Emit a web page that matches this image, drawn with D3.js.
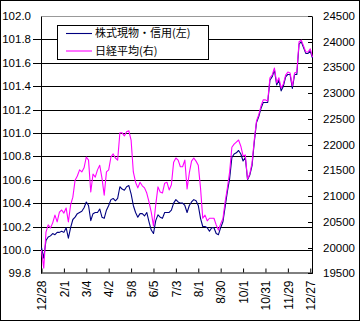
<!DOCTYPE html>
<html>
<head>
<meta charset="utf-8">
<script src="https://cdn.jsdelivr.net/npm/d3@7"></script>
<style>
  html, body { margin: 0; padding: 0; background: #fff; }
  svg { display: block; }
  text { font-family: "Liberation Sans", Arial, sans-serif; fill: #000; }
  .legend text { font-family: "Noto Sans CJK JP", "Noto Sans", sans-serif; }
</style>
</head>
<body>
<svg id="chart" width="360" height="324"></svg>
<script>
// Category labels, one for every tenth observation
const dateLabels = ["12/28", "2/1", "3/4", "4/2", "5/8", "6/5", "7/3", "8/1", "8/30", "10/1", "10/31", "11/29", "12/27"];
const labelEvery = 10;

// 株式現物・信用 (left axis)
const stockCredit = [
  100.02, 99.93, 100.08, 100.11, 100.12, 100.14, 100.13, 100.15, 100.15, 100.16,
  100.15, 100.19, 100.10, 100.19, 100.26, 100.28, 100.31, 100.32, 100.33, 100.36,
  100.41, 100.38, 100.25, 100.31, 100.32, 100.32, 100.35, 100.28, 100.27, 100.34,
  100.38, 100.43, 100.44, 100.42, 100.44, 100.54, 100.52, 100.51, 100.54, 100.55,
  100.48, 100.38, 100.32, 100.28, 100.31, 100.31, 100.29, 100.32, 100.24, 100.17,
  100.14, 100.25, 100.30, 100.28, 100.27, 100.32, 100.32, 100.32, 100.34, 100.40,
  100.43, 100.41, 100.40, 100.40, 100.38, 100.32, 100.38, 100.41, 100.43, 100.42,
  100.38, 100.27, 100.20, 100.20, 100.19, 100.16, 100.19, 100.19, 100.14, 100.13,
  100.19, 100.24, 100.37, 100.50, 100.61, 100.79, 100.82, 100.83, 100.85, 100.82,
  100.76, 100.79, 100.60, 100.64, 100.72, 100.92, 101.09, 101.14, 101.21, 101.26,
  101.26, 101.26, 101.45, 101.48, 101.54, 101.41, 101.45, 101.36, 101.40, 101.48,
  101.50, 101.50, 101.38, 101.50, 101.50, 101.76, 101.78, 101.73, 101.68, 101.68,
  101.70, 101.64
];

// 日経平均 (right axis)
const nikkei = [
  19950, 19600, 20300, 20440, 20380, 20480, 20630, 20500, 20690, 20730,
  20670, 20770, 20500, 20830, 20980, 21310, 21390, 21510, 21470, 21550,
  21760, 21700, 21080, 21430, 21370, 21510, 21600, 21350, 21020, 21470,
  21510, 21760, 21820, 21740, 21700, 22230, 22230, 22170, 22250, 22270,
  22090, 21470, 21270, 21160, 21270, 21200, 21160, 21060, 20890, 20690,
  20420, 20830, 21180, 21080, 21060, 21250, 21270, 21120, 21220, 21660,
  21740, 21700, 21570, 21570, 21700, 21140, 21450, 21680, 21740, 21680,
  21600, 21160, 20570, 20630, 20520, 20570, 20570, 20570, 20440, 20340,
  20460, 20560, 20890, 21160, 21470, 21950, 22010, 22050, 22090, 21970,
  21780, 21800, 21330, 21430, 21640, 22090, 22460, 22580, 22750, 22870,
  22870, 22850, 23300, 23350, 23490, 23200, 23300, 23100, 23180, 23350,
  23410, 23390, 23140, 23390, 23410, 24000, 24030, 23920, 23800, 23800,
  23860, 23700
];

const leftTicks = [99.8, 100.0, 100.2, 100.4, 100.6, 100.8, 101.0, 101.2, 101.4, 101.6, 101.8, 102.0];
const rightTicks = [19500, 20000, 20500, 21000, 21500, 22000, 22500, 23000, 23500, 24000, 24500];
const seriesNames = ["株式現物・信用(左)", "日経平均(右)"];
const seriesColors = ["#000080", "#ff00ff"];

const plot = { left: 41.5, right: 312.5, top: 16, bottom: 273.3 };
const svg = d3.select("#chart");

// outer frame
svg.append("rect")
  .attr("x", 0.5).attr("y", 0.5).attr("width", 359).attr("height", 320)
  .attr("fill", "#fff").attr("stroke", "#000").attr("stroke-width", 1);

const N = stockCredit.length;
const x = d3.scalePoint().domain(d3.range(N)).range([plot.left, plot.right]);
const yL = d3.scaleLinear().domain([99.8, 102.0]).range([plot.bottom, plot.top]);
const yR = d3.scaleLinear().domain([19500, 24500]).range([plot.bottom, plot.top]);
const yLr = yL.copy().interpolate(d3.interpolateRound);
const yRr = yR.copy().interpolate(d3.interpolateRound);

// horizontal gridlines on the left-axis scale
svg.append("g")
  .selectAll("line")
  .data(leftTicks.filter(v => v > 99.8))
  .join("line")
  .attr("x1", plot.left).attr("x2", plot.right)
  .attr("y1", d => yLr(d) + 0.5).attr("y2", d => yLr(d) + 0.5)
  .attr("stroke", d => d === 102.0 ? "#999" : "#000")
  .attr("stroke-width", 1);

// left axis
const gL = svg.append("g")
  .attr("transform", `translate(${plot.left - 0.5},0)`)
  .call(d3.axisLeft(yLr).tickValues(leftTicks).tickFormat(d3.format(".1f"))
    .tickSize(8).tickSizeOuter(0).tickPadding(2));
gL.selectAll(".tick line").attr("stroke", "#000")
  .attr("opacity", d => (d === 99.8 || d === 102.0) ? 0 : 1);
gL.select(".domain").attr("stroke", "#000");
gL.selectAll("text").attr("font-size", "11.5px")
  .style("font-family", '"Liberation Sans", Arial, sans-serif');

// right axis
const gR = svg.append("g")
  .attr("transform", `translate(${plot.right - 0.5},0)`)
  .call(d3.axisRight(yRr).tickValues(rightTicks).tickFormat(d3.format("d"))
    .tickSize(-4).tickSizeOuter(0).tickPadding(11));
gR.selectAll(".tick line").attr("stroke", "#000");
gR.select(".domain").attr("stroke", "#000");
gR.selectAll("text").attr("font-size", "11.5px")
  .style("font-family", '"Liberation Sans", Arial, sans-serif');

// bottom category axis with vertical labels
const gB = svg.append("g")
  .attr("transform", `translate(0,${Math.round(plot.bottom) - 0.5})`)
  .call(d3.axisBottom(x)
    .tickValues(d3.range(0, N, labelEvery))
    .tickFormat(i => dateLabels[i / labelEvery])
    .tickSize(-4).tickSizeOuter(0));
gB.selectAll(".tick line").attr("stroke", "#000");
gB.select(".domain").attr("stroke", "#000");
gB.selectAll("text")
  .attr("font-size", "12px")
  .style("font-family", '"Liberation Sans", Arial, sans-serif')
  .attr("transform", "rotate(-90)")
  .attr("text-anchor", "end")
  .attr("x", -8)
  .attr("y", 0)
  .attr("dy", "0.35em");

// series lines
const lineL = d3.line().x((d, i) => x(i)).y(d => yL(d));
const lineR = d3.line().x((d, i) => x(i)).y(d => yR(d));

svg.append("path")
  .datum(stockCredit)
  .attr("d", lineL)
  .attr("fill", "none")
  .attr("stroke", seriesColors[0])
  .attr("stroke-width", 1.1)
  .attr("stroke-linejoin", "round");

svg.append("path")
  .datum(nikkei)
  .attr("d", lineR)
  .attr("fill", "none")
  .attr("stroke", seriesColors[1])
  .attr("stroke-width", 1.1)
  .attr("stroke-linejoin", "round");

// legend
const lg = svg.append("g").attr("class", "legend");
lg.append("rect")
  .attr("x", 57.5).attr("y", 25.5).attr("width", 151).attr("height", 34)
  .attr("fill", "#fff").attr("stroke", "#000").attr("stroke-width", 1);
const rowY = [33.5, 51];
seriesNames.forEach((name, k) => {
  lg.append("line")
    .attr("x1", 66).attr("x2", 92)
    .attr("y1", rowY[k]).attr("y2", rowY[k])
    .attr("stroke", seriesColors[k]).attr("stroke-width", 1.1);
  lg.append("text")
    .attr("x", 95).attr("y", rowY[k])
    .attr("dy", "0.36em")
    .attr("font-size", "11px")
    .text(name);
});
</script>
</body>
</html>
